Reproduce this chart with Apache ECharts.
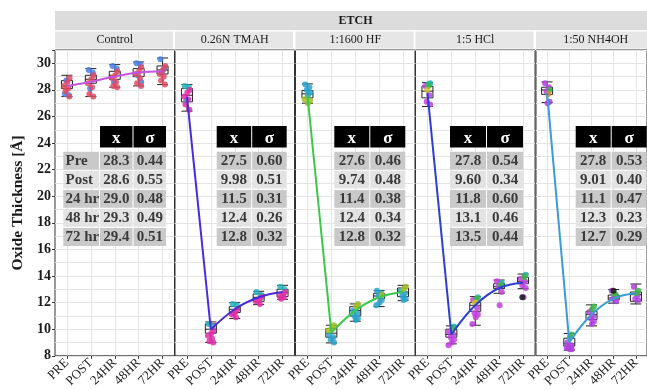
<!DOCTYPE html>
<html>
<head>
<meta charset="utf-8">
<script src="https://cdn.jsdelivr.net/npm/echarts@6/dist/echarts.min.js"></script>
<style>
  html, body { margin: 0; padding: 0; background: #fff; }
  #chart { width: 647px; height: 390px; }
</style>
</head>
<body>
<div id="chart"></div>
<script>
const categories = ['PRE', 'POST', '24HR', '48HR', '72HR']
const facets = ['Control', '0.26N TMAH', '1:1600 HF', '1:5 HCl', '1:50 NH4OH']
const rowLabels = ['Pre', 'Post', '24 hr', '48 hr', '72 hr']

// table values (mean, sd) per etch
const ctrlMean = [28.3, 28.6, 29.0, 29.3, 29.4]
const ctrlSd = [0.44, 0.55, 0.48, 0.49, 0.51]
const tmahMean = [27.5, 9.98, 11.5, 12.4, 12.8]
const tmahSd = [0.60, 0.51, 0.31, 0.26, 0.32]
const hfMean = [27.6, 9.74, 11.4, 12.4, 12.8]
const hfSd = [0.46, 0.48, 0.38, 0.34, 0.32]
const hclMean = [27.8, 9.60, 11.8, 13.1, 13.5]
const hclSd = [0.54, 0.34, 0.60, 0.46, 0.44]
const nhMean = [27.8, 9.01, 11.1, 12.3, 12.7]
const nhSd = [0.53, 0.40, 0.47, 0.23, 0.29]

// box stats [min, q1, median, q3, max] per category
const ctrlBox = [[27.5, 28.1, 28.3, 28.7, 29.1], [27.5, 28.5, 28.8, 29.1, 29.6], [28.2, 28.8, 29.1, 29.4, 29.9], [28.3, 29.0, 29.3, 29.6, 30.1], [28.4, 29.2, 29.5, 29.8, 30.4]]
const tmahBox = [[26.4, 27.1, 27.6, 28.1, 28.4], [9.0, 9.7, 10.0, 10.4, 10.55], [10.8, 11.25, 11.5, 11.7, 12.0], [11.85, 12.1, 12.4, 12.65, 12.85], [12.25, 12.45, 12.75, 13.0, 13.3]]
const hfBox = [[27.0, 27.4, 27.7, 27.95, 28.45], [8.97, 9.4, 9.7, 10.05, 10.3], [10.6, 11.0, 11.4, 11.7, 11.9], [11.7, 12.3, 12.5, 12.7, 12.9], [12.15, 12.45, 12.8, 13.1, 13.3]]
const hclBox = [[26.75, 27.4, 27.9, 28.27, 28.55], [8.9, 9.4, 9.6, 10.0, 10.25], [10.3, 11.35, 11.8, 12.0, 12.45], [12.7, 13.05, 13.2, 13.42, 13.7], [13.05, 13.42, 13.6, 13.9, 14.15]]
const nhBox = [[27.05, 27.66, 28.0, 28.2, 28.6], [8.42, 8.73, 8.9, 9.32, 9.68], [10.25, 10.73, 11.1, 11.35, 11.83], [11.96, 12.2, 12.35, 12.57, 12.98], [11.9, 12.1, 12.6, 12.8, 13.4]]

// individual measurements, per category, per colour group
const ctrlBlue = [[27.7, 27.6, 28.7], [29.5, 29.3, 28.1], [29.8, 29.6, 28.6], [30.0, 29.9, 29.1, 28.6], [30.3, 29.6, 29.3]]
const ctrlRed = [[28.9, 28.6, 28.3, 28.1, 27.9, 27.5], [29.1, 28.8, 28.5, 28.2, 27.7, 27.5], [29.4, 29.1, 28.9, 28.6, 28.3, 28.2], [29.7, 29.4, 29.2, 28.9, 28.5, 28.3], [29.8, 29.5, 29.2, 29.0, 28.7, 28.4]]
const tmahTeal = [[28.3, 28.2, 27.2], [10.4, 10.2], [11.9, 11.8], [12.8, 12.6], [13.2, 13.0]]
const tmahMagenta = [[28.0, 27.8, 27.5, 27.3, 26.9, 26.5], [9.9, 9.7, 9.5, 9.3, 9.1, 9.0], [11.5, 11.3, 11.1, 10.9, 11.2], [12.4, 12.2, 12.1, 11.9], [12.8, 12.6, 12.5, 12.4, 12.3]]
const hfBlue = [[28.4, 28.2, 28.0, 27.8, 27.6], [9.6, 9.4, 9.2, 9.0], [11.4, 11.2, 11.0, 10.8, 10.7], [12.9, 12.7, 12.5, 12.2, 12.0, 11.8], [12.9, 12.7, 12.5, 12.3, 12.2]]
const hfOlive = [[27.2, 27.0, 27.3], [10.3, 10.1, 9.9], [11.9, 11.7], [12.6], [13.2, 13.0]]
const hclTeal = [[28.5, 28.4], [10.2], [12.4], [13.5], [14.1]]
const hclGreen = [[28.3], [10.0], [12.3], [13.3], [13.9]]
const hclYellow = [[28.0], [], [12.0], [], []]
const hclPurple = [[28.3, 27.6, 27.1, 26.9], [9.8, 9.6, 9.4, 9.2, 9.0, 8.8], [12.2, 11.6, 11.2, 11.1, 10.9, 10.4], [13.6, 13.4, 13.2, 12.8, 11.8], [13.8, 13.6, 13.3, 13.1, 12.4]]
const hclBlack = [[], [], [], [], [12.4]]
const nhPurple = [[28.5, 28.2, 27.9, 27.1, 27.0], [9.0, 8.8, 8.6, 8.5, 8.5, 8.6], [11.3, 11.0, 10.8, 10.6, 10.4], [12.9, 12.6, 12.3, 12.1], [13.2, 12.6, 12.3, 12.2]]
const nhGreen = [[28.0], [9.6, 9.4], [11.7, 11.5], [12.5, 12.7], [12.9, 12.7]]
const nhOrange = [[27.7], [], [], [], []]
const nhBlack = [[], [], [], [12.9], []]

// fixed jitter offsets (category units)
const jitter = [-0.09, 0.08, -0.03, 0.11, 0.02, -0.12, 0.05, -0.06, 0.1, -0.01]

const panels = [
  { mean: ctrlMean, sd: ctrlSd, box: ctrlBox, line: '#c555e0',
    groups: [[ctrlBlue, '#4a7fe0'], [ctrlRed, '#e04a64']] },
  { mean: tmahMean, sd: tmahSd, box: tmahBox, line: '#4b2ad8',
    groups: [[tmahTeal, '#27b3bd'], [tmahMagenta, '#e02fa6']] },
  { mean: hfMean, sd: hfSd, box: hfBox, line: '#3cc84a',
    groups: [[hfBlue, '#2aa2cf'], [hfOlive, '#a2bd22']] },
  { mean: hclMean, sd: hclSd, box: hclBox, line: '#2d3fcf',
    groups: [[hclPurple, '#c23fe2'], [hclTeal, '#22b5a5'], [hclGreen, '#3fb34a'], [hclYellow, '#d0c02a'], [hclBlack, '#1a1a1a']] },
  { mean: nhMean, sd: nhSd, box: nhBox, line: '#3a9bd8',
    groups: [[nhPurple, '#b23fe2'], [nhGreen, '#3fb34a'], [nhOrange, '#e0852a'], [nhBlack, '#1a1a1a']] },
]

const FONT = 'Liberation Serif'
const panelLeft = [55, 175, 295.5, 415.5, 536]
const panelW = 119.5
const panelTop = 50
const panelH = 314
const tableLeft = [100, 216.7, 334.3, 450, 575.7]
const tableColW = [32.5, 34.5, 35, 36, 35]

const fmtMean = (v) => (v < 10 ? v.toFixed(2) : v.toFixed(1))

const chart = echarts.init(document.getElementById('chart'))

const grid = []
const xAxis = []
const yAxis = []
const series = []
const graphic = []

panels.forEach((p, i) => {
  grid.push({
    left: panelLeft[i], top: panelTop, width: panelW, height: panelH,
    show: true, borderColor: '#333', borderWidth: 1, backgroundColor: '#fff',
  })
  xAxis.push({
    type: 'category', gridIndex: i, data: categories, boundaryGap: true,
    axisLine: { show: false },
    axisTick: { show: true, alignWithLabel: true, length: 3, lineStyle: { color: '#333' } },
    axisLabel: { interval: 0, rotate: 45, fontFamily: FONT, fontSize: 13, color: '#222', margin: 5 },
    splitLine: { show: true, alignWithLabel: true, lineStyle: { color: '#e4e4e4' } },
  })
  xAxis.push({ type: 'value', gridIndex: i, min: -0.5, max: 4.5, show: false })
  yAxis.push({
    type: 'value', gridIndex: i, min: 8, max: 31, interval: 1,
    axisLine: { show: false }, axisTick: { show: false }, axisLabel: { show: false },
    splitLine: { show: true, lineStyle: { color: '#e4e4e4' } },
  })

  series.push({
    type: 'boxplot', xAxisIndex: 2 * i, yAxisIndex: i, data: p.box,
    boxWidth: [11, 11], silent: true, z: 2,
    itemStyle: { color: 'rgba(0,0,0,0)', borderColor: '#222', borderWidth: 1 },
  })

  p.groups.forEach(([vals, color], g) => {
    const pts = []
    vals.forEach((list, c) => {
      list.forEach((v, k) => {
        pts.push([c + jitter[(k + g * 3) % jitter.length], v])
      })
    })
    series.push({
      type: 'scatter', xAxisIndex: 2 * i + 1, yAxisIndex: i, data: pts,
      symbolSize: 6, silent: true, z: 3,
      itemStyle: { color, opacity: 0.85 },
    })
  })

  series.push({
    type: 'line', xAxisIndex: 2 * i, yAxisIndex: i,
    data: [p.mean[0], p.mean[1], '-', '-', '-'],
    showSymbol: false, silent: true, z: 4,
    lineStyle: { color: p.line, width: 2 },
  })
  series.push({
    type: 'line', xAxisIndex: 2 * i, yAxisIndex: i,
    data: ['-', p.mean[1], p.mean[2], p.mean[3], p.mean[4]],
    smooth: 0.4, showSymbol: false, silent: true, z: 4,
    lineStyle: { color: p.line, width: 2 },
  })

  // facet strip
  graphic.push({
    type: 'rect', shape: { x: panelLeft[i], y: 31.5, width: panelW - 1.5, height: 17 },
    style: { fill: '#e6e6e6' }, silent: true,
  })
  graphic.push({
    type: 'text', silent: true,
    style: {
      text: facets[i], x: panelLeft[i] + panelW / 2, y: 40,
      textAlign: 'center', textVerticalAlign: 'middle',
      font: '12px "Liberation Serif"', fill: '#1a1a1a',
    },
  })

  // summary table
  const tx = tableLeft[i]
  const cw = tableColW[i]
  const headers = ['x', 'σ']
  headers.forEach((h, c) => {
    graphic.push({
      type: 'rect', silent: true, z: 10,
      shape: { x: tx + c * (cw + 1), y: 126, width: cw, height: 21.5 },
      style: { fill: '#000' },
    })
    graphic.push({
      type: 'text', silent: true, z: 11,
      style: {
        text: h, x: tx + c * (cw + 1) + cw / 2, y: 139,
        textAlign: 'center', textVerticalAlign: 'middle',
        font: 'bold 17px "Liberation Serif"', fill: '#fff',
      },
    })
  })
  rowLabels.forEach((lab, r) => {
    const ry = 151.7 + r * 19.1
    const fill = r % 2 === 0 ? '#c9c9c9' : '#e3e3e3'
    const cells = [fmtMean(p.mean[r]), p.sd[r].toFixed(2)]
    if (i === 0) {
      graphic.push({
        type: 'rect', silent: true, z: 10,
        shape: { x: 63.3, y: ry, width: 35.7, height: 17.8 }, style: { fill },
      })
      graphic.push({
        type: 'text', silent: true, z: 11,
        style: {
          text: lab, x: 65.5, y: ry + 9.4, textAlign: 'left', textVerticalAlign: 'middle',
          font: 'bold 15px "Liberation Serif"', fill: '#3a3a3a',
        },
      })
    }
    cells.forEach((t, c) => {
      graphic.push({
        type: 'rect', silent: true, z: 10,
        shape: { x: tx + c * (cw + 1), y: ry, width: cw, height: 17.8 }, style: { fill },
      })
      graphic.push({
        type: 'text', silent: true, z: 11,
        style: {
          text: t, x: tx + c * (cw + 1) + cw / 2, y: ry + 9.4,
          textAlign: 'center', textVerticalAlign: 'middle',
          font: 'bold 15px "Liberation Serif"', fill: '#3a3a3a',
        },
      })
    })
  })
})

// y labels, ticks and title on the first panel only
yAxis.push({
  type: 'value', gridIndex: 0, min: 8, max: 31, interval: 2, position: 'left',
  axisLine: { show: false },
  axisTick: { show: true, length: 3, lineStyle: { color: '#333' } },
  axisLabel: {
    fontFamily: FONT, fontSize: 14, fontWeight: 'bold', color: '#1a1a1a', margin: 4,
    formatter: (v) => (v > 30 ? '' : String(v)),
  },
  splitLine: { show: false },
  name: 'Oxide Thickness [Å]', nameLocation: 'middle', nameGap: 29,
  nameTextStyle: { fontFamily: FONT, fontSize: 15.5, fontWeight: 'bold', color: '#1a1a1a' },
})

// outer strip
graphic.unshift({
  type: 'text', silent: true,
  style: {
    text: 'ETCH', x: 355.5, y: 20.5, textAlign: 'center', textVerticalAlign: 'middle',
    font: 'bold 12px "Liberation Serif"', fill: '#1a1a1a',
  },
})
graphic.unshift({
  type: 'rect', silent: true,
  shape: { x: 55, y: 11, width: 600, height: 19 }, style: { fill: '#dcdcdc' },
})

chart.setOption({
  animation: false,
  backgroundColor: '#fff',
  textStyle: { fontFamily: FONT },
  grid,
  xAxis,
  yAxis,
  series,
  graphic,
})
</script>
</body>
</html>
